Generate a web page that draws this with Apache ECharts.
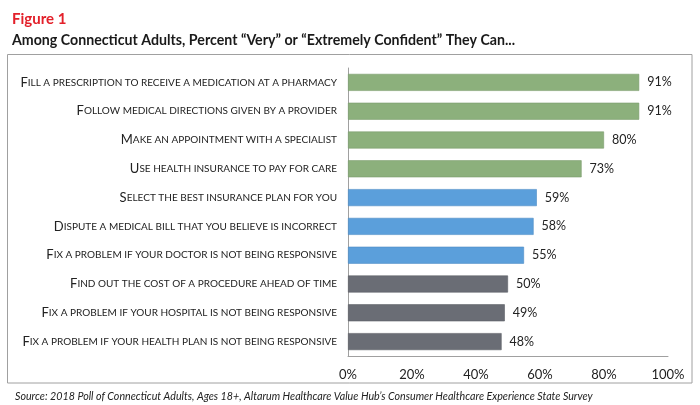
<!DOCTYPE html>
<html>
<head>
<meta charset="utf-8">
<script src="https://cdn.jsdelivr.net/npm/echarts@6/dist/echarts.min.js"></script>
<style>
  html, body { margin: 0; padding: 0; background: #fff; }
  #chart { width: 700px; height: 405px; }
</style>
</head>
<body>
<div id="chart"></div>
<script>
const categories = [
  'Fill a prescription to receive a medication at a pharmacy',
  'Follow medical directions given by a provider',
  'Make an appointment with a specialist',
  'Use health insurance to pay for care',
  'Select the best insurance plan for you',
  'Dispute a medical bill that you believe is incorrect',
  'Fix a problem if your doctor is not being responsive',
  'Find out the cost of a procedure ahead of time',
  'Fix a problem if your hospital is not being responsive',
  'Fix a problem if your health plan is not being responsive'
];
const values = [91, 91, 80, 73, 59, 58, 55, 50, 49, 48];
// 0 = green, 1 = blue, 2 = gray group
const groups = [0, 0, 0, 0, 1, 1, 1, 2, 2, 2];
const xTicks = [0, 20, 40, 60, 80, 100];

const palette = ['#8cb07c', '#5b9fdb', '#6a6d75'];
const borders = ['#7a9c6b', '#4d8bc4', '#5c5f66'];

const chart = echarts.init(document.getElementById('chart'), null, { renderer: 'canvas' });

// small caps: first letter full size, rest upper case at smaller size
function smallCaps(s) {
  return '{a|' + s.charAt(0).toUpperCase() + '}{b|' + s.slice(1).toUpperCase() + '}';
}

const option = {
  backgroundColor: '#ffffff',
  animation: false,
  title: [{
    text: 'Figure 1',
    left: 7,
    top: 7,
    textStyle: { fontFamily: 'Lato', fontSize: 15, fontWeight: 'bold', color: '#e3202a' }
  }, {
    text: 'Among Connecticut Adults, Percent \u201cVery\u201d or \u201cExtremely Confident\u201d They Can...',
    left: 7,
    top: 28,
    textStyle: { fontFamily: 'Lato', fontSize: 14.2, fontWeight: 'bold', color: '#1a1a1a' }
  }, {
    text: 'Source: 2018 Poll of Connecticut Adults, Ages 18+, Altarum Healthcare Value Hub\u2019s Consumer Healthcare Experience State Survey',
    left: 10,
    top: 386,
    textStyle: { fontFamily: 'Lato', fontSize: 10.7, fontStyle: 'italic', fontWeight: 'normal', color: '#222' }
  }],
  graphic: [{
    type: 'rect',
    shape: { x: 7.5, y: 54.5, width: 684.5, height: 328.5 },
    style: { fill: 'none', stroke: '#a0a0a0', lineWidth: 1 },
    silent: true
  }],
  grid: { left: 348, right: 32, top: 68, bottom: 49 },
  xAxis: {
    type: 'value',
    min: xTicks[0],
    max: xTicks[xTicks.length - 1],
    interval: 20,
    axisLine: { show: true, lineStyle: { color: '#a0a0a0', width: 1 } },
    axisTick: { show: false },
    splitLine: { show: false },
    axisLabel: {
      formatter: '{value}%',
      margin: 12,
      fontFamily: 'Lato',
      fontSize: 13,
      color: '#222'
    }
  },
  yAxis: {
    type: 'category',
    inverse: true,
    data: categories,
    axisLine: { show: true, lineStyle: { color: '#a0a0a0', width: 1 } },
    axisTick: { show: false },
    axisLabel: {
      margin: 11,
      formatter: smallCaps,
      rich: {
        a: { fontFamily: 'Lato', fontSize: 13, color: '#222' },
        b: { fontFamily: 'Lato', fontSize: 10, color: '#222' }
      }
    }
  },
  series: [{
    type: 'bar',
    barWidth: 17,
    data: values.map((v, i) => ({
      value: v,
      itemStyle: { color: palette[groups[i]], borderColor: borders[groups[i]], borderWidth: 0.6 }
    })),
    label: {
      show: true,
      position: 'right',
      distance: 8,
      formatter: '{c}%',
      fontFamily: 'Lato',
      fontSize: 12.5,
      color: '#222'
    }
  }]
};

chart.setOption(option);
</script>
</body>
</html>
